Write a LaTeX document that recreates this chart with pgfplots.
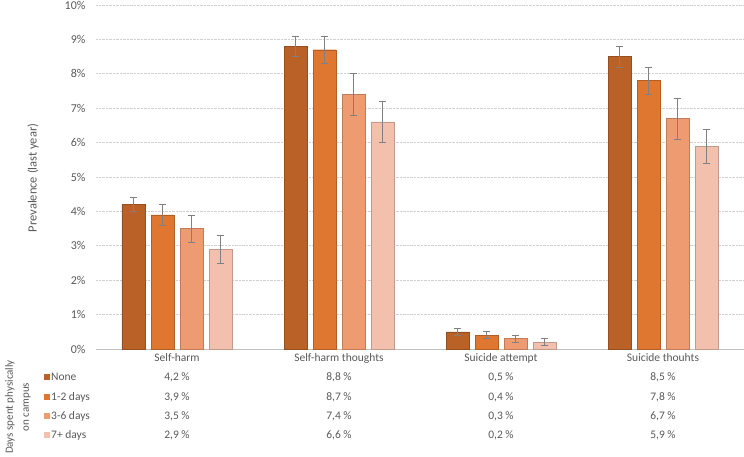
\documentclass[border=0pt]{standalone}
\usepackage{pgfplots}
\usepackage{pgfplotstable}
\pgfplotsset{compat=1.18}
\usepackage{fontspec}
\setmainfont{Carlito}
\definecolor{c1}{HTML}{BA6127}
\definecolor{c2}{HTML}{DF7730}
\definecolor{c3}{HTML}{EE9B72}
\definecolor{c4}{HTML}{F3C0AE}
\definecolor{txt}{HTML}{595959}
\definecolor{gridc}{HTML}{D0D0D0}

\pgfplotstableread{
x y e
0 4.2 0.2
1 8.8 0.3
2 0.5 0.1
3 8.5 0.3
}\tnone
\pgfplotstableread{
x y e
0 3.9 0.3
1 8.7 0.4
2 0.4 0.1
3 7.8 0.4
}\ttwo
\pgfplotstableread{
x y e
0 3.5 0.4
1 7.4 0.6
2 0.3 0.1
3 6.7 0.6
}\tsix
\pgfplotstableread{
x y e
0 2.9 0.4
1 6.6 0.6
2 0.2 0.1
3 5.9 0.5
}\tseven

\begin{document}
\begin{tikzpicture}[x=1pt,y=1pt]
\begin{axis}[
  name=ax, at={(0,0)}, anchor=south west,
  scale only axis, width=648pt, height=344pt,
  xmin=-0.5, xmax=3.5, ymin=0, ymax=10,
  ybar=6pt, bar width=23pt,
  axis x line*=bottom, axis y line*=left,
  x axis line style={draw=gridc!80!gray, line width=0.8pt, -},
  y axis line style={draw=none},
  major tick length=0pt,
  xtick={0,1,2,3},
  xticklabels={Self-harm, Self-harm thoughts, Suicide attempt, Suicide thouhts},
  xticklabel style={font=\fontsize{11.5}{13}\selectfont, text=txt, yshift=-1pt},
  ytick={0,1,...,10},
  yticklabel={\pgfmathprintnumber{\tick}\%},
  /pgf/number format/assume math mode=true,
  yticklabel style={font=\fontsize{12}{14}\selectfont, text=txt, xshift=-7pt},
  ymajorgrids,
  grid style={draw=gridc, densely dotted, line width=0.6pt},
  clip=false,
  error bars/error bar style={draw=gray, line width=0.6pt},
  error bars/error mark options={rotate=90, mark size=3.8pt, draw=gray, line width=0.6pt},
]
\addplot[fill=c1, draw=c1!80!black, line width=0.4pt,
  error bars/.cd, y dir=both, y explicit] table[x=x, y=y, y error=e]{\tnone};
\addplot[fill=c2, draw=c2!80!black, line width=0.4pt,
  error bars/.cd, y dir=both, y explicit] table[x=x, y=y, y error=e]{\ttwo};
\addplot[fill=c3, draw=c3!80!black, line width=0.4pt,
  error bars/.cd, y dir=both, y explicit] table[x=x, y=y, y error=e]{\tsix};
\addplot[fill=c4, draw=c4!80!black, line width=0.4pt,
  error bars/.cd, y dir=both, y explicit] table[x=x, y=y, y error=e]{\tseven};
\end{axis}

% y label
\node[rotate=90, text=txt, font=\fontsize{12.5}{15}\selectfont] at (-63pt,171pt) {Prevalence (last year)};

% data table
\begin{scope}[font=\fontsize{11.5}{13}\selectfont, text=txt]
\node[rotate=90, align=center, font=\fontsize{11}{16}\selectfont, text=txt] at (-78pt,-58pt) {Days spent physically\\on campus};
% legend keys
\fill[c1] (-52pt,-31pt) rectangle (-46pt,-25pt);
\fill[c2] (-52pt,-51pt) rectangle (-46pt,-45pt);
\fill[c3] (-52pt,-70pt) rectangle (-46pt,-64pt);
\fill[c4] (-52pt,-89pt) rectangle (-46pt,-83pt);
\node[anchor=west, inner sep=0pt] at (-45pt,-28pt) {None};
\node[anchor=west, inner sep=0pt] at (-45pt,-48pt) {1-2 days};
\node[anchor=west, inner sep=0pt] at (-45pt,-67pt) {3-6 days};
\node[anchor=west, inner sep=0pt] at (-45pt,-86pt) {7+ days};
% values
\node at (81pt,-28pt) {4,2 \%};
\node at (81pt,-48pt) {3,9 \%};
\node at (81pt,-67pt) {3,5 \%};
\node at (81pt,-86pt) {2,9 \%};
\node at (243pt,-28pt) {8,8 \%};
\node at (243pt,-48pt) {8,7 \%};
\node at (243pt,-67pt) {7,4 \%};
\node at (243pt,-86pt) {6,6 \%};
\node at (405pt,-28pt) {0,5 \%};
\node at (405pt,-48pt) {0,4 \%};
\node at (405pt,-67pt) {0,3 \%};
\node at (405pt,-86pt) {0,2 \%};
\node at (567pt,-28pt) {8,5 \%};
\node at (567pt,-48pt) {7,8 \%};
\node at (567pt,-67pt) {6,7 \%};
\node at (567pt,-86pt) {5,9 \%};
\end{scope}

\pgfresetboundingbox
\path[use as bounding box] (-96pt,-108pt) rectangle (648pt,349pt);
\end{tikzpicture}
\end{document}
